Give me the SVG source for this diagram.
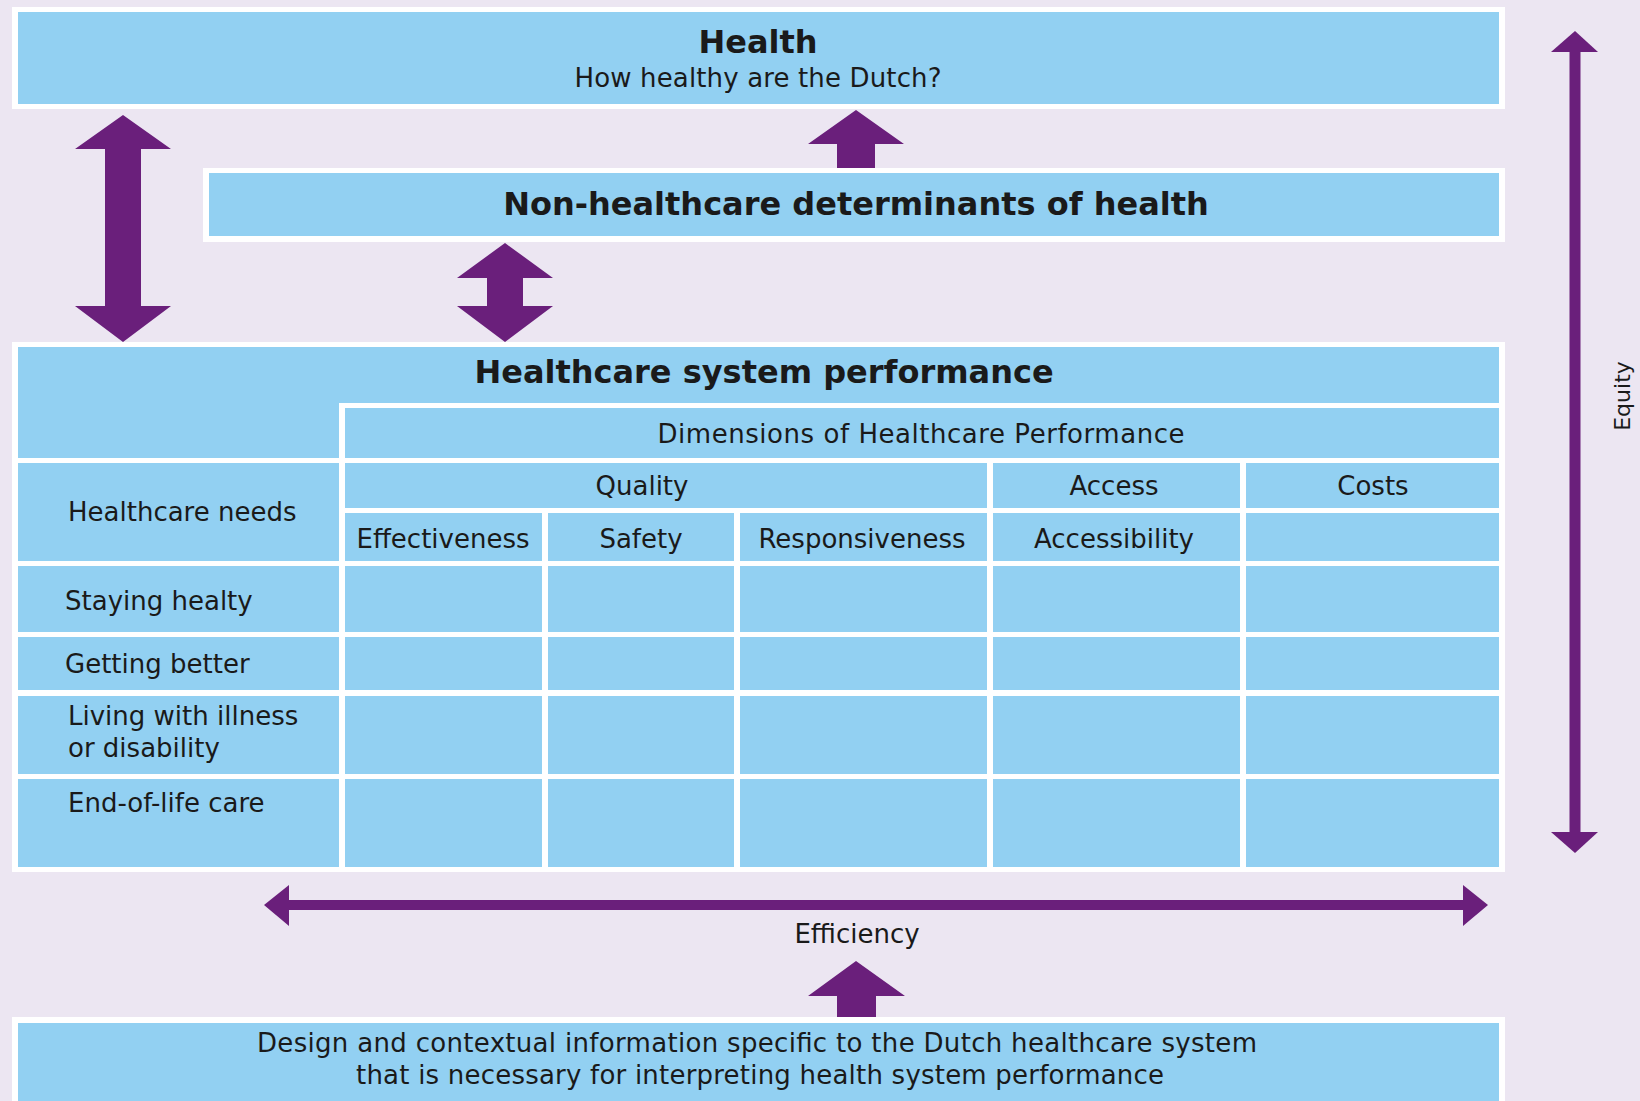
<svg xmlns="http://www.w3.org/2000/svg" width="1640" height="1101" viewBox="0 0 1640 1101">
  <style>
    .bg { fill: #ece6f2; }
    .frame { fill: #ffffff; }
    .cell { fill: #92d0f2; }
    .arrow { fill: #6a1f7b; }
    .shaft { stroke: #6a1f7b; fill: none; }
    text { font-family: "DejaVu Sans", "Liberation Sans", sans-serif; fill: #1a1a1a; }
    .title { font-size: 32px; font-weight: bold; text-anchor: middle; }
    .lbl { font-size: 26px; }
    .mid { text-anchor: middle; }
    .side { font-size: 22px; text-anchor: middle; }
  </style>

  <rect class="bg" x="0" y="0" width="1640" height="1101"/>

  <!-- Top box: health outcome -->
  <g id="health">
    <rect class="frame" x="12" y="7" width="1493" height="102"/>
    <rect class="cell" x="18" y="12" width="1481" height="92"/>
    <text class="title" x="758" y="53">Health</text>
    <text class="lbl mid" x="758" y="87" textLength="367" lengthAdjust="spacing">How healthy are the Dutch?</text>
  </g>

  <!-- Determinants outside the care system -->
  <g id="non-healthcare">
    <rect class="frame" x="203" y="168" width="1302" height="74"/>
    <rect class="cell" x="209" y="173" width="1290" height="63"/>
    <text class="title" x="856" y="215">Non-healthcare determinants of health</text>
  </g>

  <!-- Performance matrix -->
  <g id="healthcare-system-performance">
    <rect class="frame" x="12" y="342" width="1493" height="530"/>
    <polygon class="cell" points="18,347 1499,347 1499,403 339,403 339,458 18,458"/>
    <text class="title" x="764" y="383">Healthcare system performance</text>

    <g id="dimensions">
      <rect class="cell" x="345" y="408" width="1154" height="50"/>
      <text class="lbl mid" x="921" y="443" textLength="527" lengthAdjust="spacing">Dimensions of Healthcare Performance</text>
    </g>

    <g id="quality">
      <rect class="cell" x="345" y="463" width="642" height="45"/>
      <text class="lbl mid" x="642" y="495">Quality</text>
    </g>
    <g id="access">
      <rect class="cell" x="993" y="463" width="247" height="45"/>
      <text class="lbl mid" x="1114" y="495">Access</text>
    </g>
    <g id="costs">
      <rect class="cell" x="1246" y="463" width="253" height="45"/>
      <text class="lbl mid" x="1373" y="495">Costs</text>
    </g>

    <g id="healthcare-needs">
      <rect class="cell" x="18" y="463" width="321" height="98"/>
      <text class="lbl" x="68" y="521">Healthcare needs</text>
    </g>

    <g id="effectiveness">
      <rect class="cell" x="345" y="513" width="197" height="48"/>
      <text class="lbl mid" x="443" y="548">Effectiveness</text>
    </g>
    <g id="safety">
      <rect class="cell" x="548" y="513" width="186" height="48"/>
      <text class="lbl mid" x="641" y="548">Safety</text>
    </g>
    <g id="responsiveness">
      <rect class="cell" x="740" y="513" width="247" height="48"/>
      <text class="lbl mid" x="862" y="548">Responsiveness</text>
    </g>
    <g id="accessibility">
      <rect class="cell" x="993" y="513" width="247" height="48"/>
      <text class="lbl mid" x="1114" y="548">Accessibility</text>
    </g>
    <rect class="cell" x="1246" y="513" width="253" height="48"/>

    <!-- row labels -->
    <g id="staying-healthy">
      <rect class="cell" x="18" y="566" width="321" height="66"/>
      <text class="lbl" x="65" y="610">Staying healty</text>
    </g>
    <g id="getting-better">
      <rect class="cell" x="18" y="637" width="321" height="53"/>
      <text class="lbl" x="65" y="673">Getting better</text>
    </g>
    <g id="living-with-illness">
      <rect class="cell" x="18" y="696" width="321" height="78"/>
      <text class="lbl" x="68" y="725">Living with illness</text>
      <text class="lbl" x="68" y="757">or disability</text>
    </g>
    <g id="end-of-life">
      <rect class="cell" x="18" y="779" width="321" height="88"/>
      <text class="lbl" x="68" y="812">End-of-life care</text>
    </g>

    <!-- empty body cells -->
    <g id="body-cells">
      <rect class="cell" x="345" y="566" width="197" height="66"/>
      <rect class="cell" x="548" y="566" width="186" height="66"/>
      <rect class="cell" x="740" y="566" width="247" height="66"/>
      <rect class="cell" x="993" y="566" width="247" height="66"/>
      <rect class="cell" x="1246" y="566" width="253" height="66"/>

      <rect class="cell" x="345" y="637" width="197" height="53"/>
      <rect class="cell" x="548" y="637" width="186" height="53"/>
      <rect class="cell" x="740" y="637" width="247" height="53"/>
      <rect class="cell" x="993" y="637" width="247" height="53"/>
      <rect class="cell" x="1246" y="637" width="253" height="53"/>

      <rect class="cell" x="345" y="696" width="197" height="78"/>
      <rect class="cell" x="548" y="696" width="186" height="78"/>
      <rect class="cell" x="740" y="696" width="247" height="78"/>
      <rect class="cell" x="993" y="696" width="247" height="78"/>
      <rect class="cell" x="1246" y="696" width="253" height="78"/>

      <rect class="cell" x="345" y="779" width="197" height="88"/>
      <rect class="cell" x="548" y="779" width="186" height="88"/>
      <rect class="cell" x="740" y="779" width="247" height="88"/>
      <rect class="cell" x="993" y="779" width="247" height="88"/>
      <rect class="cell" x="1246" y="779" width="253" height="88"/>
    </g>
  </g>

  <!-- Context box at the bottom -->
  <g id="context">
    <rect class="frame" x="12" y="1017" width="1493" height="90"/>
    <rect class="cell" x="18" y="1023" width="1481" height="84"/>
    <text class="lbl mid" x="757" y="1052" textLength="1000" lengthAdjust="spacing">Design and contextual information specific to the Dutch healthcare system</text>
    <text class="lbl mid" x="760" y="1084" textLength="808" lengthAdjust="spacing">that is necessary for interpreting health system performance</text>
  </g>

  <!-- Connectors -->
  <g id="connectors">
    <!-- healthcare performance <-> health -->
    <polygon class="arrow" points="123,115 171,149 141,149 141,306 171,306 123,342 75,306 105,306 105,149 75,149"/>
    <!-- healthcare performance <-> non-healthcare determinants -->
    <polygon class="arrow" points="505,243 553,278 523,278 523,306 553,306 505,342 457,306 487,306 487,278 457,278"/>
    <!-- non-healthcare determinants -> health -->
    <polygon class="arrow" points="856,110 904,144 875,144 875,168 837,168 837,144 808,144"/>
    <!-- context -> performance -->
    <polygon class="arrow" points="856,961 905,996 876,996 876,1017 837,1017 837,996 808,996"/>

    <!-- Equity (vertical, both ways) -->
    <g id="equity">
      <line class="shaft" x1="1575" y1="48" x2="1575" y2="836" stroke-width="11"/>
      <polygon class="arrow" points="1575,31 1598,52 1551,52"/>
      <polygon class="arrow" points="1575,853 1598,832 1551,832"/>
      <text class="side" transform="translate(1630,396) rotate(-90)" x="0" y="0">Equity</text>
    </g>

    <!-- Efficiency (horizontal, both ways) -->
    <g id="efficiency">
      <line class="shaft" x1="284" y1="905" x2="1468" y2="905" stroke-width="10"/>
      <polygon class="arrow" points="264,905 289,885 289,926"/>
      <polygon class="arrow" points="1488,905 1463,885 1463,926"/>
      <text class="lbl mid" x="857" y="943">Efficiency</text>
    </g>
  </g>
</svg>
